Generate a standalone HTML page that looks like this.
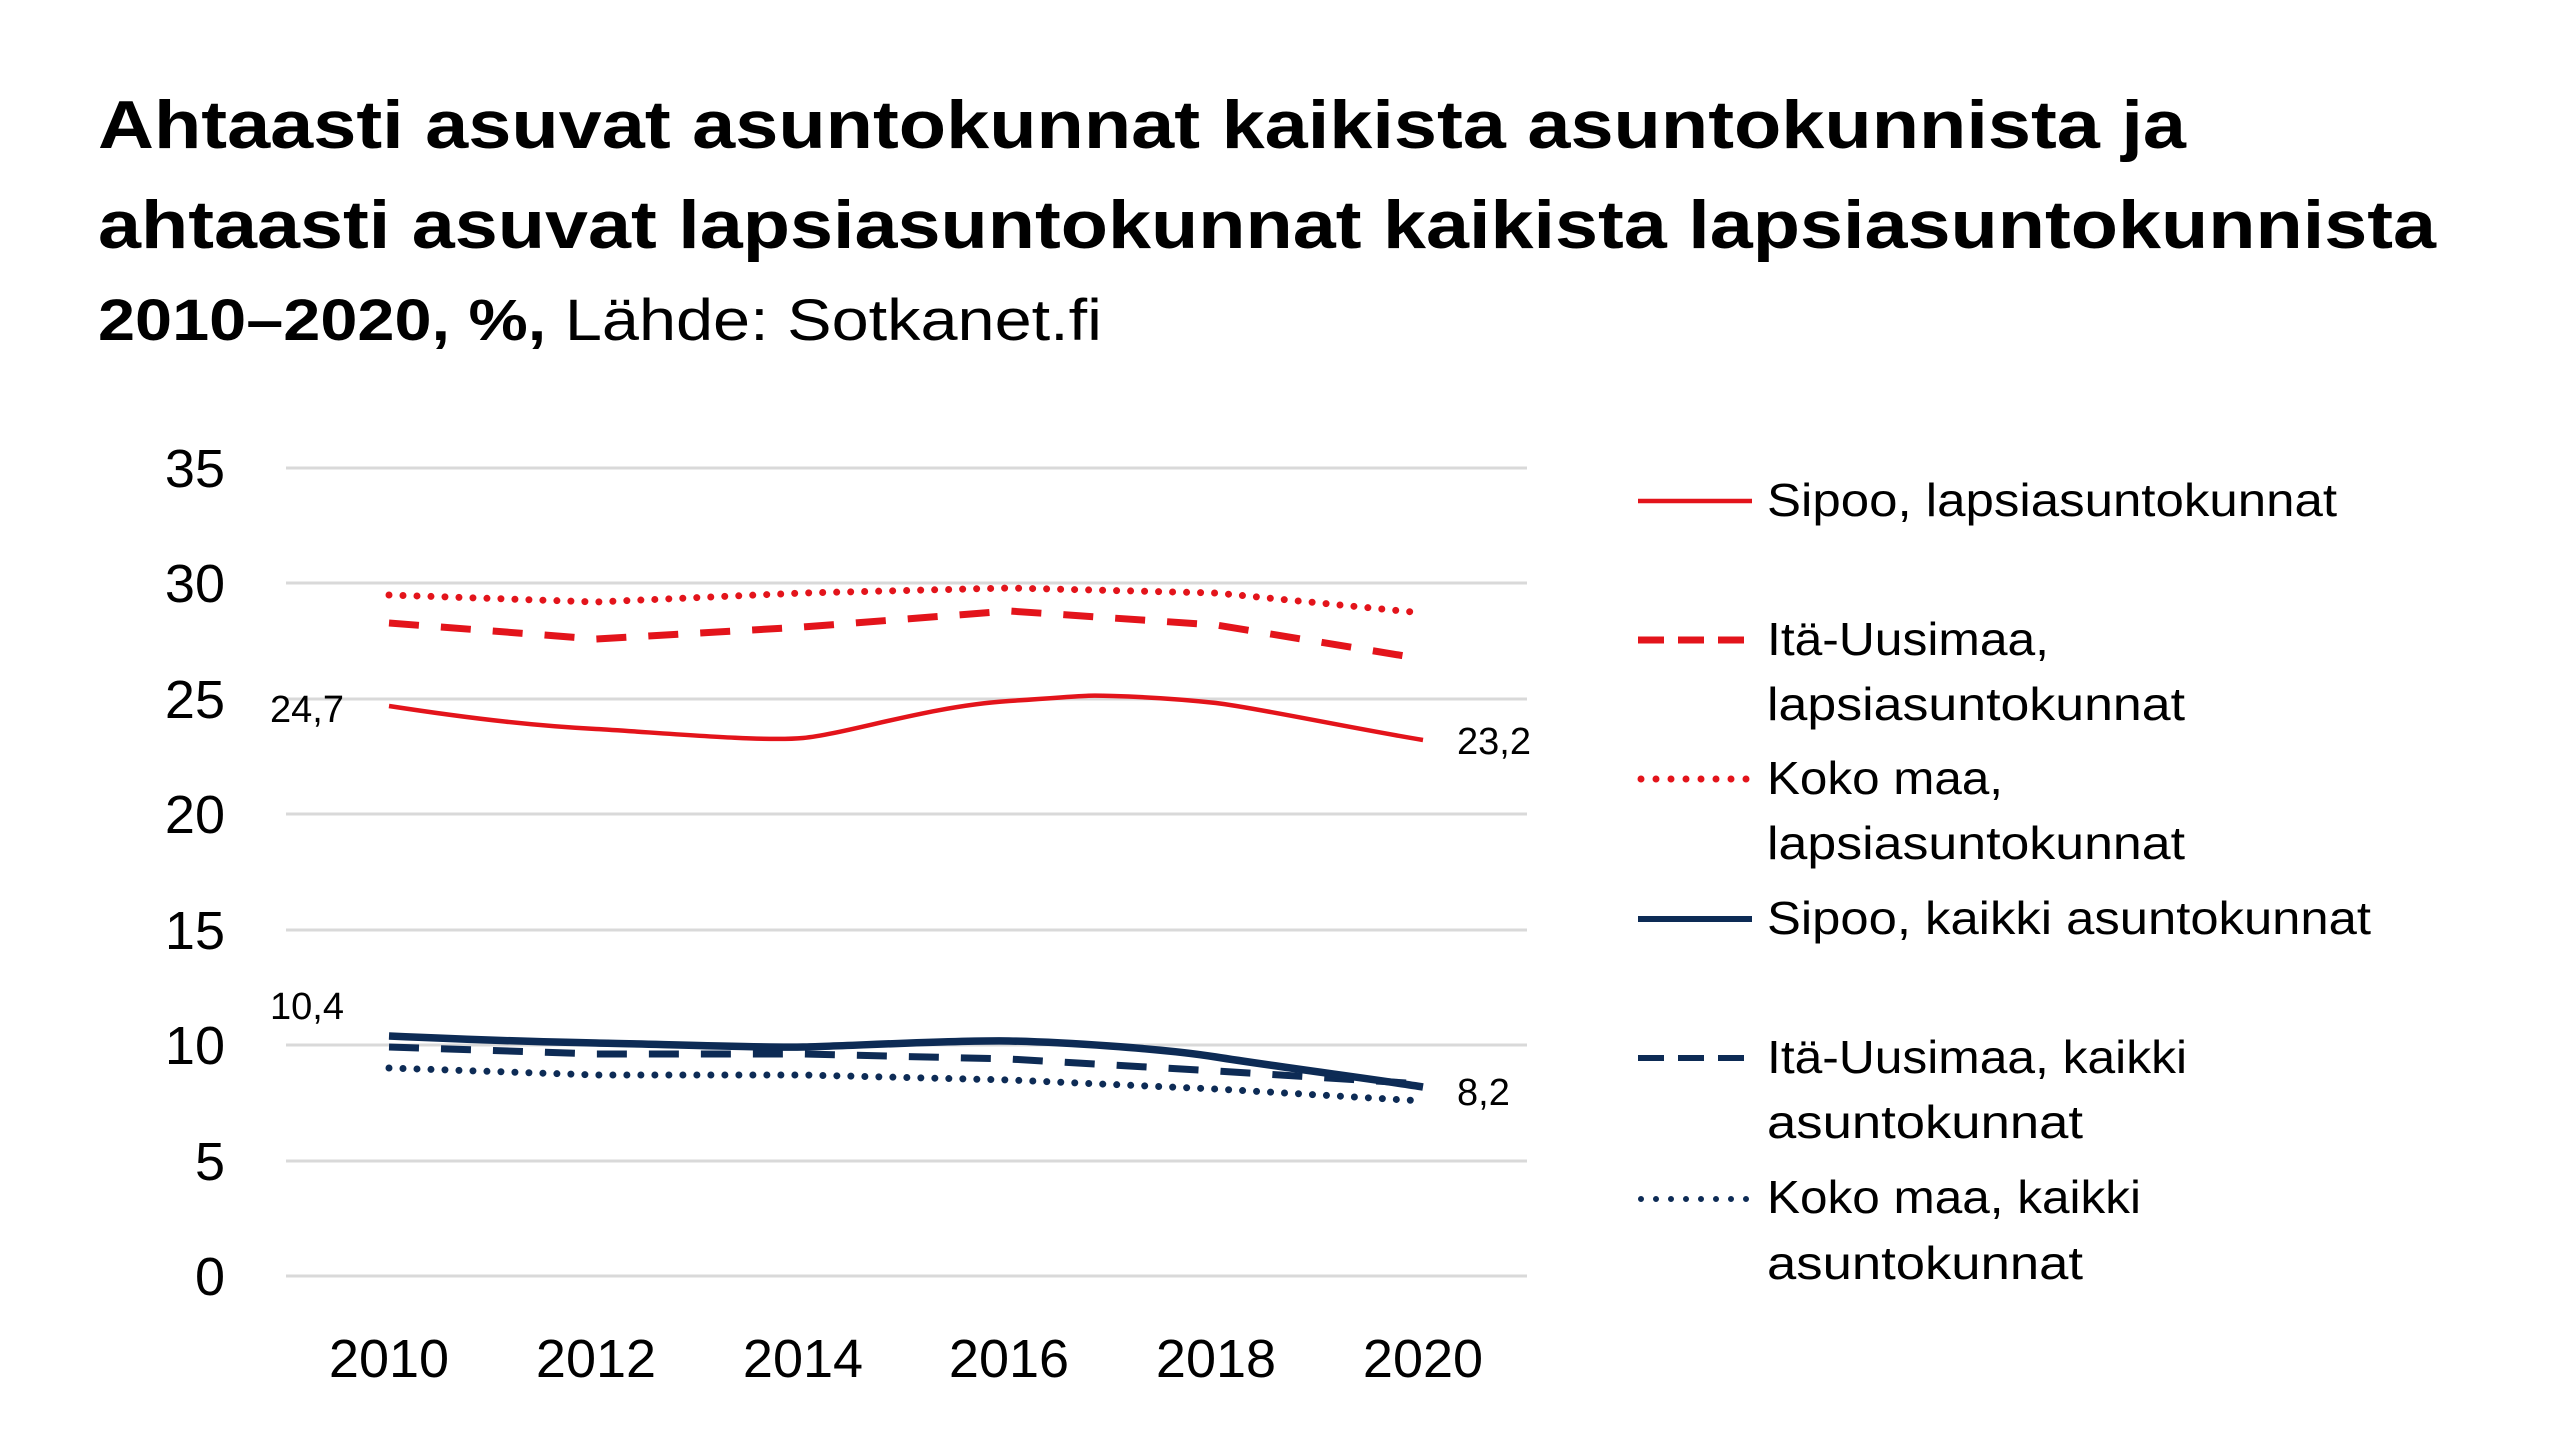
<!DOCTYPE html>
<html><head><meta charset="utf-8"><style>html,body{margin:0;padding:0;background:#fff}svg{display:block}</style></head>
<body>
<svg width="2560" height="1454" viewBox="0 0 2560 1454" xmlns="http://www.w3.org/2000/svg" font-family="Liberation Sans, sans-serif">
<rect width="2560" height="1454" fill="#fff"/>
<text x="98" y="148" font-size="68" font-weight="bold" fill="#000" textLength="2088" lengthAdjust="spacingAndGlyphs">Ahtaasti asuvat asuntokunnat kaikista asuntokunnista ja</text>
<text x="98" y="248" font-size="68" font-weight="bold" fill="#000" textLength="2338" lengthAdjust="spacingAndGlyphs">ahtaasti asuvat lapsiasuntokunnat kaikista lapsiasuntokunnista</text>
<text x="98" y="340" font-size="58" fill="#000" textLength="1004" lengthAdjust="spacingAndGlyphs"><tspan font-weight="bold">2010–2020, %,</tspan> Lähde: Sotkanet.fi</text>
<g stroke="#d9d9d9" stroke-width="3">
<line x1="286" x2="1527" y1="468" y2="468"/><line x1="286" x2="1527" y1="583" y2="583"/><line x1="286" x2="1527" y1="699" y2="699"/><line x1="286" x2="1527" y1="814" y2="814"/><line x1="286" x2="1527" y1="930" y2="930"/><line x1="286" x2="1527" y1="1045" y2="1045"/><line x1="286" x2="1527" y1="1161" y2="1161"/><line x1="286" x2="1527" y1="1276" y2="1276"/>
</g>
<g font-size="54" fill="#000" text-anchor="end">
<text x="225" y="487">35</text><text x="225" y="602">30</text><text x="225" y="718">25</text><text x="225" y="833">20</text><text x="225" y="949">15</text><text x="225" y="1064">10</text><text x="225" y="1180">5</text><text x="225" y="1295">0</text>
</g>
<g font-size="54" fill="#000" text-anchor="middle">
<text x="389" y="1377">2010</text><text x="596" y="1377">2012</text><text x="803" y="1377">2014</text><text x="1009" y="1377">2016</text><text x="1216" y="1377">2018</text><text x="1423" y="1377">2020</text>
</g>
<g fill="none" stroke-linejoin="round">
<path d="M389,706 C480,720 540,726 596,729 S760,742 803,738 S930,706 1009,701 S1080,695 1113,696 S1180,699 1216,703 S1350,728 1423,740" stroke="#e3141b" stroke-width="4.5"/>
<polyline points="389,623 596,639 803,627 1009,611 1216,625 1423,659" stroke="#e3141b" stroke-width="7" stroke-dasharray="30,22"/>
<polyline points="389,595 596,602 803,593 1009,588 1216,593 1423,613" stroke="#e3141b" stroke-width="7" stroke-dasharray="0,14" stroke-linecap="round"/>
<polyline points="389,1047 596,1054 803,1054 1009,1059 1216,1071 1423,1084" stroke="#0d2b55" stroke-width="7" stroke-dasharray="30,22"/>
<polyline points="389,1068 596,1075 803,1075 1009,1080 1216,1089 1423,1101" stroke="#0d2b55" stroke-width="7" stroke-dasharray="0,14" stroke-linecap="round"/>
<path d="M389,1036 C480,1040 540,1042 596,1043 S760,1048 803,1047 S960,1040 1009,1041 S1160,1048 1216,1057 S1380,1080 1423,1087" stroke="#0d2b55" stroke-width="7.5"/>
</g>
<g font-size="38" fill="#000">
<text x="270" y="722">24,7</text><text x="1457" y="754">23,2</text><text x="270" y="1019">10,4</text><text x="1457" y="1105">8,2</text>
</g>
<g stroke-width="6" fill="none">
<line x1="1638" x2="1752" y1="501" y2="501" stroke="#e3141b" stroke-width="4.5"/>
<line x1="1638" x2="1752" y1="640" y2="640" stroke="#e3141b" stroke-width="7" stroke-dasharray="26,14"/>
<line x1="1641" x2="1752" y1="779" y2="779" stroke="#e3141b" stroke-width="7" stroke-dasharray="0,15" stroke-linecap="round"/>
<line x1="1638" x2="1752" y1="919" y2="919" stroke="#0d2b55" stroke-width="6"/>
<line x1="1638" x2="1752" y1="1058" y2="1058" stroke="#0d2b55" stroke-width="6" stroke-dasharray="26,14"/>
<line x1="1641" x2="1752" y1="1199" y2="1199" stroke="#0d2b55" stroke-width="6" stroke-dasharray="0,15" stroke-linecap="round"/>
</g>
<g font-size="46" fill="#000">
<text x="1767" y="516" textLength="570" lengthAdjust="spacingAndGlyphs">Sipoo, lapsiasuntokunnat</text>
<text x="1767" y="655" textLength="282" lengthAdjust="spacingAndGlyphs">Itä-Uusimaa,</text>
<text x="1767" y="720" textLength="418" lengthAdjust="spacingAndGlyphs">lapsiasuntokunnat</text>
<text x="1767" y="794" textLength="236" lengthAdjust="spacingAndGlyphs">Koko maa,</text>
<text x="1767" y="859" textLength="418" lengthAdjust="spacingAndGlyphs">lapsiasuntokunnat</text>
<text x="1767" y="934" textLength="604" lengthAdjust="spacingAndGlyphs">Sipoo, kaikki asuntokunnat</text>
<text x="1767" y="1073" textLength="420" lengthAdjust="spacingAndGlyphs">Itä-Uusimaa, kaikki</text>
<text x="1767" y="1138" textLength="316" lengthAdjust="spacingAndGlyphs">asuntokunnat</text>
<text x="1767" y="1213" textLength="374" lengthAdjust="spacingAndGlyphs">Koko maa, kaikki</text>
<text x="1767" y="1279" textLength="316" lengthAdjust="spacingAndGlyphs">asuntokunnat</text>
</g>
</svg>
</body></html>
